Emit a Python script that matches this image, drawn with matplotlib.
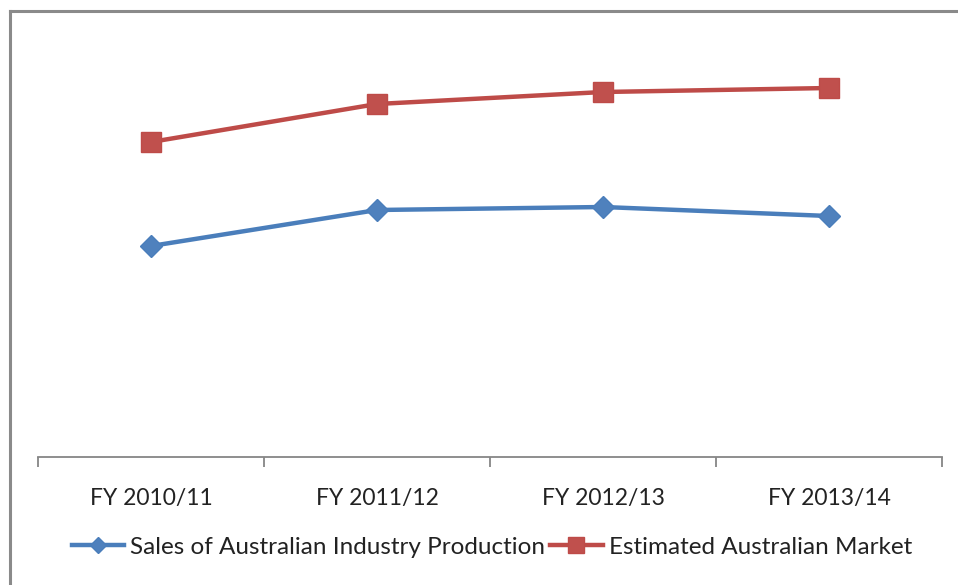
import matplotlib
matplotlib.use("Agg")
import matplotlib.pyplot as plt
from matplotlib.lines import Line2D

categories = ["FY 2010/11", "FY 2011/12", "FY 2012/13", "FY 2013/14"]
sales = [211, 247, 250, 241]
market = [315, 353, 365, 369]
series_names = ["Sales of Australian Industry Production", "Estimated Australian Market"]

plt.rcParams['font.family'] = ['Lato', 'DejaVu Sans']

W, H = 958, 585
fig = plt.figure(figsize=(W / 100, H / 100), dpi=100)
ax = fig.add_axes([38 / W, (H - 457) / H, (942 - 38) / W, (457 - 30) / H])

x = list(range(len(categories)))
ax.plot(x, sales, color='#4A7EBB', lw=3.2, marker='D', ms=11.5,
        mfc='#4F81BD', mec='#4A7EBB', mew=1, label=series_names[0], zorder=3)
ax.plot(x, market, color='#BE4B48', lw=3.2, marker='s', ms=14.5,
        mfc='#C0504D', mec='#BE4B48', mew=1, label=series_names[1], zorder=3)

ax.set_xlim(-0.5, len(categories) - 0.5)
ax.set_ylim(0, 427)
for s in ['top', 'right', 'left']:
    ax.spines[s].set_visible(False)
ax.spines['bottom'].set_color('#868686')
ax.spines['bottom'].set_linewidth(1.3)
ax.set_yticks([])
ax.set_xticks(x)
ax.set_xticklabels(categories, fontsize=16.5, color='#222222')
ax.tick_params(axis='x', length=0, pad=22)
ax.set_xticks([i - 0.5 for i in range(len(categories) + 1)], minor=True)
ax.tick_params(axis='x', which='minor', length=7, width=1.3, color='#868686')

leg = fig.legend(loc='center', bbox_to_anchor=(492 / W, 1 - 547 / H), ncol=2,
                 frameon=False, fontsize=17.5, handlelength=2.15, handletextpad=0.25,
                 columnspacing=0.2, markerscale=0.75)
for t in leg.get_texts():
    t.set_color('#222222')

# outer chart frame (cropped on the right and bottom)
fig.add_artist(Line2D([9.5 / W, 9.5 / W], [0, 1 - 11 / H], transform=fig.transFigure,
                      color='#8A8A8A', lw=2.2))
fig.add_artist(Line2D([9.5 / W, 1], [1 - 11 / H, 1 - 11 / H], transform=fig.transFigure,
                      color='#8A8A8A', lw=2.2))

fig.savefig("out.png", dpi=100)
